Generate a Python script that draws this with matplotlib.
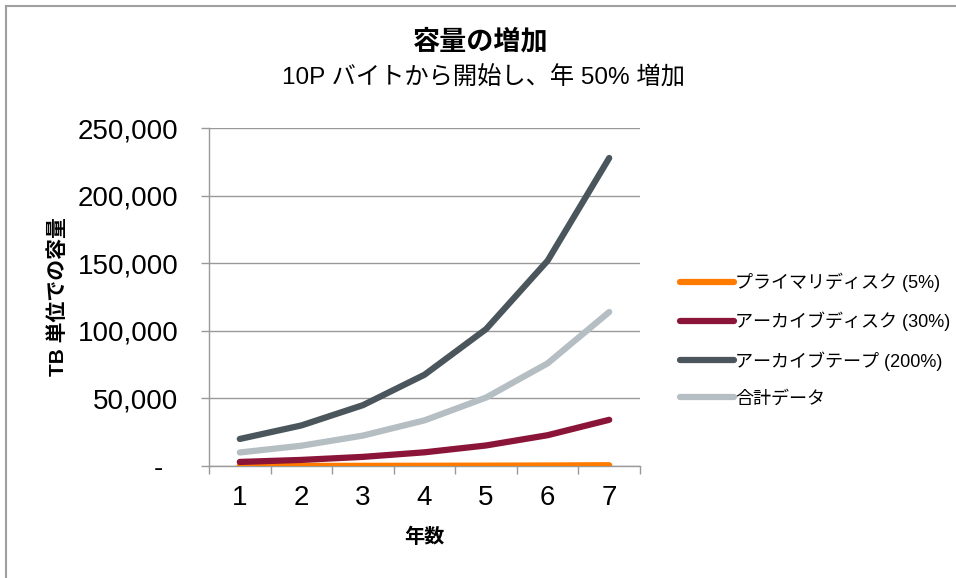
import matplotlib
matplotlib.use("Agg")
import matplotlib.pyplot as plt
from matplotlib.lines import Line2D

plt.rcParams['font.family'] = ['Liberation Sans', 'Noto Sans CJK JP', 'DejaVu Sans']

# years and capacity (TB) per tier
years = [1, 2, 3, 4, 5, 6, 7]
primary_disk = [50, 75, 113, 169, 253, 380, 570]
archive_disk = [3000, 4500, 6750, 10125, 15188, 22781, 34172]
archive_tape = [20000, 30000, 45000, 67500, 101250, 151875, 227813]
total_data = [10000, 15000, 22500, 33750, 50625, 75938, 113906]

series_names = ["プライマリディスク (5%)", "アーカイブディスク (30%)",
                "アーカイブテープ (200%)", "合計データ"]
series_colors = ["#FF7B00", "#8B1538", "#4A565C", "#B4BEC3"]
y_ticks = [0, 50000, 100000, 150000, 200000, 250000]

fig = plt.figure(figsize=(9.56, 5.78), dpi=100)
ax = fig.add_axes([209 / 956, 112 / 578, 431 / 956, 338 / 578])

# outer frame (only left and top show inside the image)
fig.add_artist(Line2D([5.5 / 956, 5.5 / 956], [0, 572.5 / 578], color="#A0A0A0", lw=1.5))
fig.add_artist(Line2D([5.5 / 956, 1], [572.5 / 578, 572.5 / 578], color="#A0A0A0", lw=1.5))

for vals, name, col in zip([primary_disk, archive_disk, archive_tape, total_data],
                           series_names, series_colors):
    ax.plot(years, vals, color=col, lw=4.5, solid_capstyle="round",
            solid_joinstyle="round", label=name, zorder=3)

ax.set_xlim(0.5, 7.5)
ax.set_ylim(0, 250000)
ax.set_yticks(y_ticks)
ax.set_yticklabels(["-  " if v == 0 else f"{v:,}" for v in y_ticks], fontsize=20)
ax.set_xticks(years)
ax.set_xticklabels([str(y) for y in years], fontsize=20)
ax.set_xticks([x + 0.5 for x in range(0, 8)], minor=True)
ax.tick_params(axis="x", which="major", length=0, pad=14)
ax.tick_params(axis="x", which="minor", length=6, color="#999999", width=1)
ax.tick_params(axis="y", length=6, color="#999999", width=1, pad=16)

ax.grid(axis="y", color="#999999", lw=1)
ax.set_axisbelow(True)
for s in ["top", "right"]:
    ax.spines[s].set_visible(False)
for s in ["left", "bottom"]:
    ax.spines[s].set_color("#999999")
    ax.spines[s].set_linewidth(1)

ax.set_xlabel("年数", fontsize=14.5, fontweight="bold", labelpad=12)
ax.set_ylabel("TB 単位での容量", fontsize=15, fontweight="bold", labelpad=7)

fig.text(0.503, 1 - 42 / 578, "容量の増加", ha="center", va="center",
         fontsize=19.5, fontweight="bold")
fig.text(0.506, 1 - 78 / 578, "10P バイトから開始し、年 50% 増加", ha="center",
         va="center", fontsize=17.5)

fig.legend(loc="center left", bbox_to_anchor=(664 / 956, 1 - 340 / 578),
           frameon=False, fontsize=13, handlelength=3.0, handletextpad=0.05,
           labelspacing=1.1)

fig.savefig("out.png", dpi=100)
